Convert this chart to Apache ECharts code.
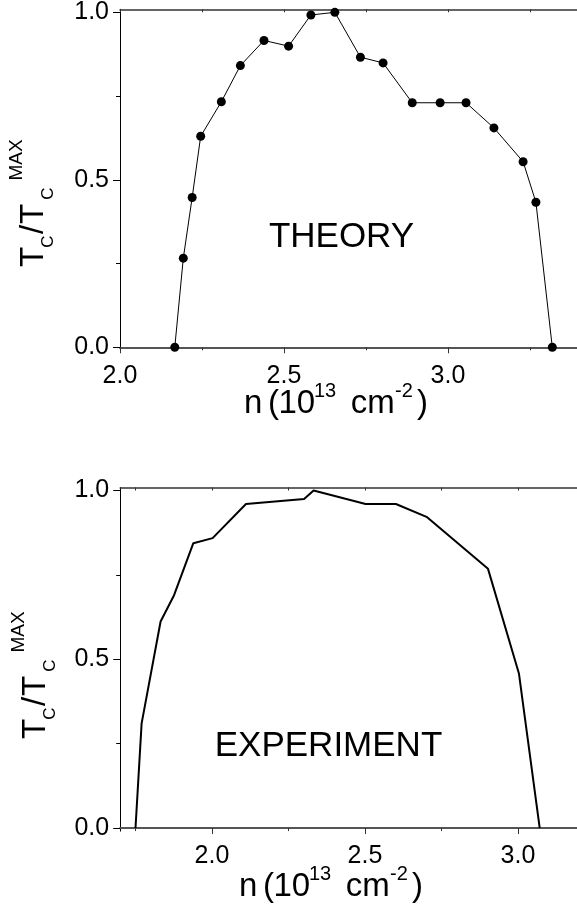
<!DOCTYPE html>
<html>
<head>
<meta charset="utf-8">
<script src="https://cdn.jsdelivr.net/npm/echarts@6/dist/echarts.min.js"></script>
<style>
html,body{margin:0;padding:0;background:#fff;}
#chart{width:577px;height:914px;}
</style>
</head>
<body>
<div id="chart"></div>
<script>
// ---- data ----
const theoryN  = [2.167, 2.193, 2.220, 2.246, 2.309, 2.367, 2.439, 2.514, 2.582, 2.655, 2.733, 2.802, 2.891, 2.976, 3.055, 3.140, 3.229, 3.268, 3.318];
const theoryTc = [0.000, 0.266, 0.447, 0.630, 0.733, 0.841, 0.916, 0.899, 0.992, 1.000, 0.866, 0.849, 0.730, 0.730, 0.730, 0.655, 0.554, 0.433, 0.000];

const expN  = [1.750, 1.770, 1.832, 1.876, 1.939, 2.002, 2.111, 2.301, 2.332, 2.502, 2.601, 2.703, 2.902, 3.003, 3.071];
const expTc = [0.000, 0.310, 0.612, 0.690, 0.844, 0.859, 0.960, 0.975, 1.000, 0.960, 0.960, 0.921, 0.768, 0.458, 0.000];

const yMajor = [0, 0.5, 1.0];
const yMinor = [0.25, 0.75];
const topXMajor = [2.0, 2.5, 3.0, 3.5];
const topXMinor = [2.25, 2.75, 3.25];
const botXMajor = [2.0, 2.5, 3.0, 3.5];
const botXMinor = [1.75, 2.25, 2.75, 3.25];

const FONT = '"Liberation Sans", Arial, Helvetica, sans-serif';
const fmt = v => Number(v).toFixed(1);

function zip(a, b) { return a.map((v, i) => [v, b[i]]); }

function xAxesFor(gi, min, max, major, minor) {
  const all = major.concat(minor).sort((a, b) => a - b);
  return [
    { gridIndex: gi, type: 'value', position: 'bottom', min, max,
      axisLine: { show: true, lineStyle: { color: '#555', width: 2 } },
      axisTick: { show: true, inside: false, length: 6, customValues: major, lineStyle: { color: '#333', width: 1 } },
      axisLabel: { show: true, customValues: major, formatter: fmt, fontSize: 25, fontFamily: FONT, color: '#000', margin: 13 },
      splitLine: { show: false } },
    { gridIndex: gi, type: 'value', position: 'bottom', offset: 0, min, max,
      axisLine: { show: false },
      axisTick: { show: true, inside: false, length: 3, customValues: minor, lineStyle: { color: '#333', width: 1 } },
      axisLabel: { show: false }, splitLine: { show: false } },
    { gridIndex: gi, type: 'value', position: 'top', offset: 0, min, max,
      axisLine: { show: true, lineStyle: { color: '#333', width: 1.5 } },
      axisTick: { show: true, inside: true, length: 3, customValues: all, lineStyle: { color: '#333', width: 1 } },
      axisLabel: { show: false }, splitLine: { show: false } }
  ];
}
function yAxesFor(gi) {
  return [
    { gridIndex: gi, type: 'value', position: 'left', min: -0.009, max: 1.009,
      axisLine: { show: true, lineStyle: { color: '#000', width: 1 } },
      axisTick: { show: true, inside: false, length: 7, customValues: yMajor, lineStyle: { color: '#000', width: 1 } },
      axisLabel: { show: true, customValues: yMajor, formatter: fmt, fontSize: 25, fontFamily: FONT, color: '#000', margin: 11 },
      splitLine: { show: false } },
    { gridIndex: gi, type: 'value', position: 'left', offset: 0, min: -0.009, max: 1.009,
      axisLine: { show: false },
      axisTick: { show: true, inside: false, length: 4, customValues: yMinor, lineStyle: { color: '#000', width: 1 } },
      axisLabel: { show: false }, splitLine: { show: false } }
  ];
}

function t(x, y, text, size, align, rot) {
  return { type: 'text', x, y, rotation: rot || 0, silent: true, z: 100,
    style: { text, fontSize: size, fontFamily: FONT, fill: '#000', align: align || 'center', verticalAlign: 'middle' } };
}
function yTitle(dx, dy) {
  const R = Math.PI / 2;
  return [
    t(33.6 + dx, 257 + dy, 'T', 33, 'center', R),
    t(48.1 + dx, 241.5 + dy, 'C', 17, 'center', R),
    t(33.6 + dx, 229.5 + dy, '/', 33, 'center', R),
    t(33.6 + dx, 214 + dy, 'T', 33, 'center', R),
    t(48.1 + dx, 193.5 + dy, 'C', 17, 'center', R),
    t(16.4 + dx, 160 + dy, 'MAX', 19, 'center', R)
  ];
}
function xTitle(dx, dy) {
  const yb = 403.9 + dy, ys = 391.4 + dy;
  return [
    t(244 + dx, yb, 'n', 33, 'left'),
    t(268 + dx, yb, '(', 33, 'left'),
    t(278.5 + dx, yb, '10', 33, 'left'),
    t(314 + dx, ys, '13', 20, 'left'),
    t(350.7 + dx, yb, 'cm', 33, 'left'),
    t(395 + dx, ys, '-2', 20, 'left'),
    t(417 + dx, yb, ')', 33, 'left')
  ];
}

const chart = echarts.init(document.getElementById('chart'), null, { renderer: 'canvas' });
const xa = xAxesFor(0, 2.0, 3.5, topXMajor, topXMinor).concat(xAxesFor(1, 1.7, 3.5, botXMajor, botXMinor));
const ya = yAxesFor(0).concat(yAxesFor(1));

chart.setOption({
  animation: false,
  backgroundColor: '#fff',
  grid: [
    { left: 120, top: 9.3, width: 492, height: 341, outerBoundsMode: 'none', containLabel: false },
    { left: 120.2, top: 487.5, width: 550.8, height: 343.6, outerBoundsMode: 'none', containLabel: false }
  ],
  xAxis: xa,
  yAxis: ya,
  series: [
    { type: 'line', xAxisIndex: 0, yAxisIndex: 0, data: zip(theoryN, theoryTc),
      symbol: 'circle', symbolSize: 9, showAllSymbol: true,
      itemStyle: { color: '#000' }, lineStyle: { color: '#000', width: 1 }, clip: false },
    { type: 'line', xAxisIndex: 3, yAxisIndex: 2, data: zip(expN, expTc),
      symbol: 'none', lineStyle: { color: '#000', width: 2 }, clip: false }
  ],
  graphic: [
    t(341.5, 237, 'THEORY', 35, 'center'),
    t(328.5, 746, 'EXPERIMENT', 35, 'center')
  ].concat(yTitle(0, 0), yTitle(2, 472), xTitle(0, 0), xTitle(-5, 483))
});
</script>
</body>
</html>
